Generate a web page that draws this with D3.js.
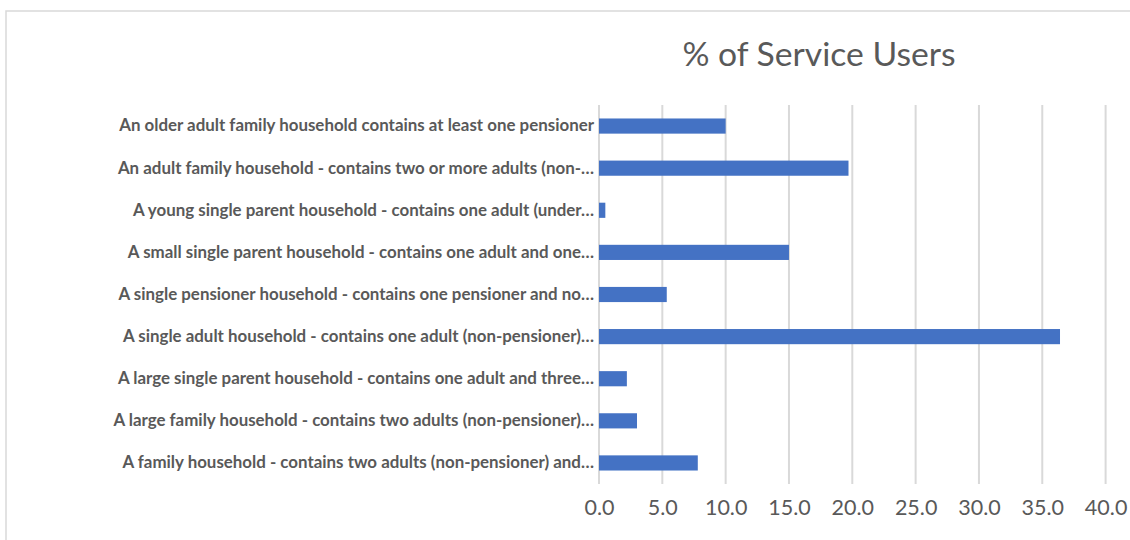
<!DOCTYPE html>
<html>
<head>
<meta charset="utf-8">
<script src="https://cdn.jsdelivr.net/npm/d3@7"></script>
<style>
  body { margin: 0; background: #fff; }
  text { font-family: Lato, "Open Sans", sans-serif; }
</style>
</head>
<body>
<script>
// categories, top to bottom as shown
var categories = [
  "An older adult family household contains at least one pensioner",
  "An adult family household - contains two or more adults (non-…",
  "A young single parent household - contains one adult (under…",
  "A small single parent household - contains one adult and one…",
  "A single pensioner household - contains one pensioner and no…",
  "A single adult household - contains one adult (non-pensioner)…",
  "A large single parent household - contains one adult and three…",
  "A large family household - contains two adults (non-pensioner)…",
  "A family household - contains two adults (non-pensioner) and…"
];
// % of service users
var values = [10.0, 19.7, 0.5, 15.0, 5.35, 36.4, 2.2, 3.0, 7.8];
var xTicks = [0, 5, 10, 15, 20, 25, 30, 35, 40];

var data = categories.map(function(c, i) { return {cat: c, val: values[i]}; });

var width = 1130, height = 540;
var svg = d3.select("body").append("svg")
    .attr("width", width)
    .attr("height", height);

// chart frame (runs off the right and bottom of the picture)
svg.append("rect")
    .attr("x", 6).attr("y", 11)
    .attr("width", 1140).attr("height", 540)
    .attr("fill", "none")
    .attr("stroke", "#d9d9d9")
    .attr("stroke-width", 1.5);

var xScale = d3.scaleLinear()
    .domain([0, 40])
    .range([599, 1105.6]);

var yScale = d3.scaleBand()
    .domain(categories)
    .range([105, 484])
    .paddingInner(0.64)
    .paddingOuter(0.32);

// gridlines
svg.append("g")
  .selectAll("line")
  .data(xTicks)
  .enter()
  .append("line")
    .attr("x1", d => xScale(d))
    .attr("x2", d => xScale(d))
    .attr("y1", 105)
    .attr("y2", 484)
    .attr("stroke", "#d9d9d9")
    .attr("stroke-width", 2);

// bars
svg.append("g")
  .selectAll("rect")
  .data(data)
  .enter()
  .append("rect")
    .attr("x", xScale(0))
    .attr("y", d => yScale(d.cat))
    .attr("width", d => xScale(d.val) - xScale(0))
    .attr("height", yScale.bandwidth())
    .attr("fill", "#4472c4");

// x axis labels
var xAxis = d3.axisBottom(xScale)
    .tickValues(xTicks)
    .tickFormat(d3.format(".1f"))
    .tickSize(0)
    .tickPadding(14);

var gx = svg.append("g")
    .attr("transform", "translate(0,486)")
    .call(xAxis);
gx.select(".domain").remove();
gx.selectAll("text")
    .attr("fill", "#595959")
    .style("font-size", "21.5px")
    .style("font-family", "Lato, 'Open Sans', sans-serif");

// category labels
var yAxis = d3.axisLeft(yScale).tickSize(0).tickPadding(5);
var gy = svg.append("g")
    .attr("transform", "translate(599,0)")
    .call(yAxis);
gy.select(".domain").remove();
gy.selectAll("text")
    .attr("fill", "#595959")
    .style("font-size", "16.9px")
    .style("font-weight", "bold")
    .style("font-family", "Lato, 'Open Sans', sans-serif");

// title
svg.append("text")
    .attr("x", 819)
    .attr("y", 66)
    .attr("text-anchor", "middle")
    .attr("fill", "#595959")
    .style("font-size", "33.7px")
    .text("% of Service Users");
</script>
</body>
</html>
